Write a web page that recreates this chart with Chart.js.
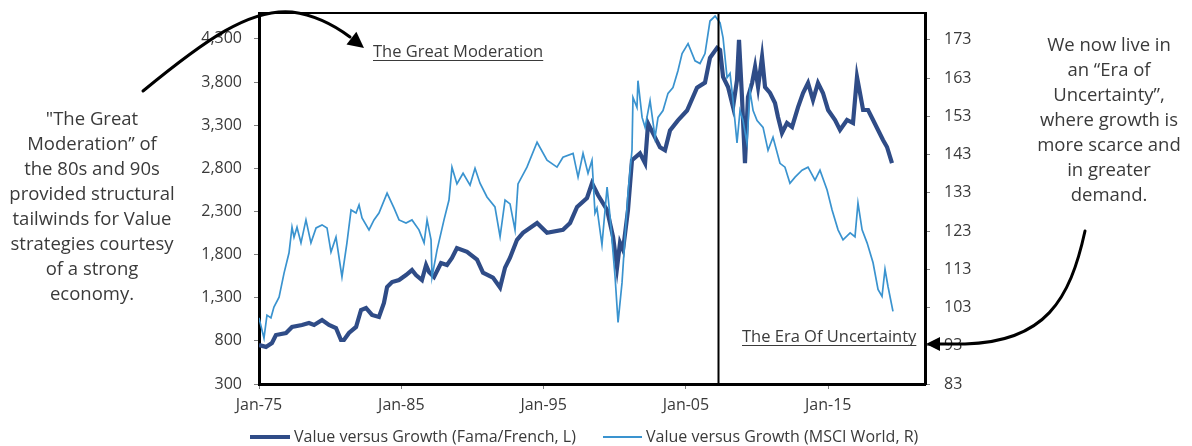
<!DOCTYPE html>
<html>
<head>
<meta charset="utf-8">
<script src="https://cdn.jsdelivr.net/npm/chart.js@4.4.1/dist/chart.umd.min.js"></script>
<style>
  html, body { margin: 0; padding: 0; background: #fff; }
  canvas { display: block; }
</style>
</head>
<body>
<canvas id="c" width="1192" height="446"></canvas>
<script>
// ---- Data ----
const xTickYears = [1975, 1985, 1995, 2005, 2015];
const leftTicks = [300, 800, 1300, 1800, 2300, 2800, 3300, 3800, 4300];
const rightTicks = [83, 93, 103, 113, 123, 133, 143, 153, 163, 173];
const dividerYear = 2007.26;

const ffYears = [1975.00,1975.49,1975.91,1976.19,1976.90,1977.32,1978.02,1978.51,1978.87,1979.43,1979.92,1980.41,1980.76,1980.97,1981.32,1981.82,1982.17,1982.52,1982.94,1983.43,1983.78,1984.00,1984.35,1984.84,1985.33,1985.75,1986.03,1986.45,1986.74,1986.95,1987.30,1987.79,1988.21,1988.56,1988.91,
  1989.62,1990.32,1990.74,1991.44,1991.94,1992.29,1992.64,1993.13,1993.55,1994.54,1995.24,1996.36,1996.86,1997.35,1998.05,1998.40,1998.82,1999.46,1999.88,2000.16,2000.37,2000.58,2000.93,2001.21,2001.77,2002.13,2002.34,2002.83,2003.18,2003.53,2003.88,2004.44,2005.08,2005.78,2006.34,2006.69,2007.19,
  2007.40,2007.61,2007.96,2008.31,2008.59,2008.73,2008.94,2009.15,2009.36,2009.65,2009.86,2010.07,2010.35,2010.56,2010.91,2011.26,2011.47,2011.75,2012.10,2012.46,2012.88,2013.23,2013.58,2013.93,2014.28,2014.63,2014.99,2015.48,2015.83,2016.32,2016.74,2017.02,2017.23,2017.45,2017.80,2018.15,2018.50,2018.85,2019.13,2019.48];
const ffValues = [752,730,775,868,891,961,984,1007,984,1042,984,949,810,810,891,961,1158,1181,1100,1077,1239,1424,1482,1505,1563,1621,1563,1505,1679,1598,1540,1702,1679,1760,1876,
  1833,1741,1591,1533,1418,1649,1764,1971,2052,2167,2052,2087,2167,2352,2456,2628,2490,2317,2006,1650,1937,1856,2317,2894,2974,2859,3320,3159,3043,3009,3239,3355,3470,3735,3793,4081,4196,
  4171,3858,3742,3510,3823,4290,3626,2861,3626,3789,3974,3742,4090,3742,3673,3557,3395,3209,3325,3279,3510,3673,3789,3592,3789,3673,3476,3360,3244,3360,3325,3858,3673,3476,3476,3360,3244,3128,3047,2861];

const msciYears = [1975.00,1975.35,1975.56,1975.84,1976.05,1976.41,1976.76,1977.11,1977.32,1977.46,1977.67,1977.95,1978.30,1978.65,1979.01,1979.43,1979.78,1980.06,1980.41,1980.83,1981.18,1981.47,1981.82,1982.03,1982.24,1982.73,1983.08,1983.43,1984.00,1984.49,1984.84,1985.33,1985.75,1986.24,1986.60,1986.81,1987.09,1987.16,1987.51,1988.00,1988.35,
  1988.56,1988.91,1989.34,1989.83,1990.18,1990.53,1991.02,1991.58,1991.94,1992.29,1992.64,1992.99,1993.20,1993.83,1994.54,1995.24,1995.94,1996.36,1997.07,1997.42,1997.77,1998.12,1998.40,1998.61,1998.75,1999.10,1999.46,1999.67,2000.02,2000.23,2000.51,2000.72,2000.93,2001.21,2001.28,2001.56,2001.63,2001.92,2002.13,2002.48,2002.83,2003.04,2003.39,2003.74,2004.09,2004.44,2004.73,2005.15,2005.64,2005.99,2006.34,2006.69,2007.05,2007.40,2007.61,2007.89,2008.10,2008.31,2008.59,2008.80,2009.01,2009.29,2009.50,2009.72,2010.00,2010.42,2010.77,2011.12,2011.61,2011.96,2012.31,2012.67,2013.16,2013.58,2014.07,2014.42,2014.92,2015.27,2015.69,2016.04,2016.54,2016.88,2017.09,2017.38,2017.73,2018.15,2018.50,2018.78,2018.99,2019.20,2019.55];
const msciValues = [100.3,95.0,101.0,100.3,103.1,105.7,112.0,117.3,124.0,121.4,124.0,119.9,125.9,119.9,123.8,124.6,123.8,117.5,121.4,111.0,119.9,128.5,127.7,129.8,126.4,123.3,125.9,127.7,132.9,129.0,125.9,125.1,125.9,123.3,119.9,125.9,120.7,111.0,118.0,125.9,131.1,
  139.7,135.3,138.1,135.0,139.4,135.5,131.9,129.3,121.5,131.1,130.1,123.3,135.3,139.7,146.2,141.5,139.7,142.3,143.3,137.1,143.3,138.1,141.5,127.7,129.0,119.4,134.5,126.7,111.1,99.1,109.5,121.5,133.0,144.1,157.9,155.3,162.3,152.7,150.1,157.1,147.5,152.7,154.5,159.0,160.5,164.9,169.4,172.0,167.5,166.8,169.4,177.9,179.2,177.4,173.5,163.1,164.2,157.1,146.0,154.5,151.9,146.0,159.7,154.5,151.9,150.1,144.1,147.5,140.7,139.7,135.5,137.1,138.9,139.7,136.3,138.9,133.7,128.5,123.3,120.7,122.5,121.5,130.3,123.3,119.9,114.7,107.7,105.9,113.0,108.5,102.0];

const seriesLabels = ['Value versus Growth (Fama/French, L)', 'Value versus Growth (MSCI World, R)'];
const darkColor = '#2f4c87';
const lightColor = '#3a93cf';
const textColor = '#3a3a3a';
const FONT = '"Open Sans", "Noto Sans", sans-serif';

const ffData = ffYears.map((x, i) => ({ x, y: ffValues[i] }));
const msciData = msciYears.map((x, i) => ({ x, y: msciValues[i] }));

const decor = {
  id: 'decor',
  afterDatasetsDraw(chart) {
    const { ctx, chartArea: a, scales } = chart;
    ctx.save();
    ctx.strokeStyle = '#000';
    ctx.lineWidth = 2;
    ctx.beginPath();
    ctx.moveTo(a.left, a.top);
    ctx.lineTo(a.right, a.top);
    ctx.stroke();
    const dx = Math.round(scales.x.getPixelForValue(dividerYear)) + 0.5;
    ctx.lineWidth = 2;
    ctx.beginPath();
    ctx.moveTo(dx, a.top);
    ctx.lineTo(dx, a.bottom);
    ctx.stroke();
    ctx.restore();
  },
  afterDraw(chart) {
    const { ctx } = chart;
    ctx.save();
    ctx.fillStyle = textColor;
    ctx.strokeStyle = textColor;
    ctx.font = '16.5px ' + FONT;
    ctx.textBaseline = 'middle';
    ctx.textAlign = 'left';
    const ul = (t, x, y) => {
      ctx.fillText(t, x, y);
      const w = ctx.measureText(t).width;
      ctx.lineWidth = 1.2;
      ctx.beginPath();
      ctx.moveTo(x, y + 8.5);
      ctx.lineTo(x + w, y + 8.5);
      ctx.stroke();
    };
    ul('The Great Moderation', 373, 52);
    ul('The Era Of Uncertainty', 742, 337);

    ctx.font = '18.5px ' + FONT;
    ctx.textAlign = 'center';
    const leftLines = ['"The Great', 'Moderation\u201d of', 'the 80s and 90s', 'provided structural', 'tailwinds for Value', 'strategies courtesy', 'of a strong', 'economy.'];
    leftLines.forEach((t, i) => ctx.fillText(t, 92, 120 + i * 25));
    const rightLines = ['We now live in', 'an \u201cEra of', 'Uncertainty\u201d,', 'where growth is', 'more scarce and', 'in greater', 'demand.'];
    rightLines.forEach((t, i) => ctx.fillText(t, 1109, 46 + i * 25));

    ctx.strokeStyle = '#000';
    ctx.fillStyle = '#000';
    ctx.lineWidth = 3;
    ctx.lineCap = 'round';
    ctx.beginPath();
    ctx.moveTo(143, 91);
    ctx.bezierCurveTo(205, 40, 250, 8, 292, 12);
    ctx.quadraticCurveTo(322, 16, 350, 37);
    ctx.stroke();
    const head = (tx, ty, ang, len, hw) => {
      const bx = tx - Math.cos(ang) * len, by = ty - Math.sin(ang) * len;
      const px = -Math.sin(ang) * hw, py = Math.cos(ang) * hw;
      ctx.beginPath();
      ctx.moveTo(tx, ty);
      ctx.lineTo(bx + px, by + py);
      ctx.lineTo(bx - px, by - py);
      ctx.closePath();
      ctx.fill();
    };
    head(364, 48, Math.atan2(11, 14), 16, 8);

    ctx.beginPath();
    ctx.moveTo(1085, 231);
    ctx.bezierCurveTo(1070, 300, 1045, 342, 965, 344);
    ctx.lineTo(938, 344);
    ctx.stroke();
    head(926, 344, Math.PI, 14, 7);

    ctx.lineCap = 'butt';
    ctx.font = '16px ' + FONT;
    ctx.textAlign = 'left';
    ctx.textBaseline = 'middle';
    const ly = 437;
    ctx.strokeStyle = darkColor;
    ctx.lineWidth = 4;
    ctx.beginPath(); ctx.moveTo(250, ly); ctx.lineTo(290, ly); ctx.stroke();
    ctx.fillStyle = textColor;
    ctx.fillText(seriesLabels[0], 294, ly);
    ctx.strokeStyle = lightColor;
    ctx.lineWidth = 2;
    ctx.beginPath(); ctx.moveTo(603, ly); ctx.lineTo(642, ly); ctx.stroke();
    ctx.fillText(seriesLabels[1], 646, ly);
    ctx.restore();
  }
};

const tickFont = { family: FONT, size: 16 };
const gridCfg = { display: true, drawOnChartArea: false, drawTicks: true, tickLength: 5, color: '#7f7f7f' };
const noPad = s => { s.paddingTop = 0; s.paddingBottom = 0; };

new Chart(document.getElementById('c'), {
  type: 'line',
  data: {
    datasets: [
      { label: seriesLabels[0], data: ffData, yAxisID: 'yL', borderColor: darkColor, backgroundColor: darkColor, borderWidth: 4.2, pointRadius: 0, tension: 0, order: 1, borderJoinStyle: 'miter' },
      { label: seriesLabels[1], data: msciData, yAxisID: 'yR', borderColor: lightColor, backgroundColor: lightColor, borderWidth: 1.7, pointRadius: 0, tension: 0, order: 0 }
    ]
  },
  options: {
    responsive: false,
    animation: false,
    devicePixelRatio: 1,
    layout: { padding: { top: 13, left: 0, right: 0, bottom: 0 } },
    plugins: { legend: { display: false }, tooltip: { enabled: false } },
    scales: {
      x: {
        type: 'linear', min: 1975, max: 2021.8,
        afterBuildTicks: s => { s.ticks = xTickYears.map(v => ({ value: v })); },
        afterFit: s => { s.height = 62; s.paddingLeft = 0; s.paddingRight = 0; },
        ticks: { callback: v => 'Jan-' + String(v).slice(2), font: tickFont, color: textColor, padding: 7, maxRotation: 0, autoSkip: false },
        grid: gridCfg,
        border: { display: true, color: '#000', width: 3 }
      },
      yL: {
        type: 'linear', position: 'left', min: 300, max: 4600,
        afterBuildTicks: s => { s.ticks = leftTicks.map(v => ({ value: v })); },
        afterFit: s => { s.width = 259; noPad(s); },
        ticks: { callback: v => v.toLocaleString('en-US'), font: tickFont, color: textColor, padding: 12 },
        grid: gridCfg,
        border: { display: true, color: '#000', width: 3 }
      },
      yR: {
        type: 'linear', position: 'right', min: 83, max: 180,
        afterBuildTicks: s => { s.ticks = rightTicks.map(v => ({ value: v })); },
        afterFit: s => { s.width = 267; noPad(s); },
        ticks: { callback: v => String(v), font: tickFont, color: textColor, padding: 14 },
        grid: gridCfg,
        border: { display: true, color: '#000', width: 3 }
      }
    }
  },
  plugins: [decor]
});
</script>
</body>
</html>
